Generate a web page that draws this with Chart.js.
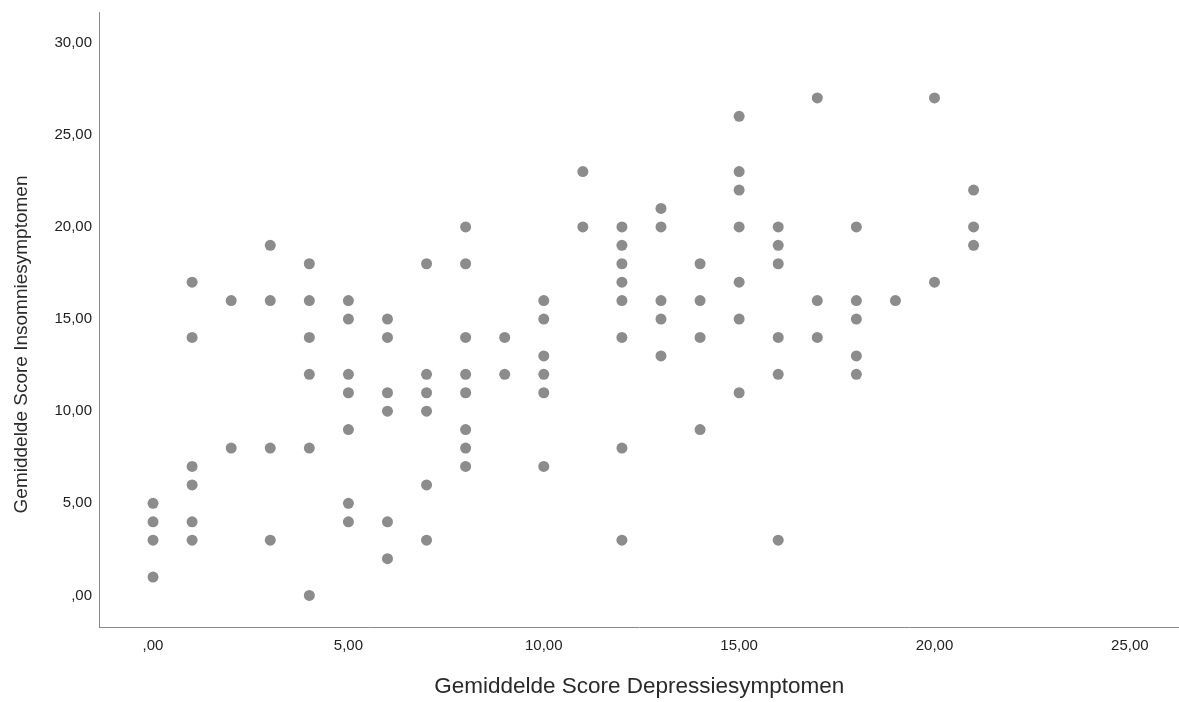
<!DOCTYPE html>
<html>
<head>
<meta charset="utf-8">
<title>Depressie vs Insomnie</title>
<script src="https://cdn.jsdelivr.net/npm/chart.js@4.4.1/dist/chart.umd.min.js"></script>
<style>
  html, body { margin: 0; padding: 0; background: #ffffff; overflow: hidden; }
  canvas { display: block; }
</style>
</head>
<body>
<canvas id="c" width="1185" height="702"></canvas>
<script>
// Gemiddelde scores per respondent (depressie op x, insomnie op y)
const depressie = [
  0, 0, 0, 0,
  1, 1, 1, 1, 1, 1,
  2, 2,
  3, 3, 3, 3,
  4, 4, 4, 4, 4, 4,
  5, 5, 5, 5, 5, 5, 5,
  6, 6, 6, 6, 6, 6,
  7, 7, 7, 7, 7, 7,
  8, 8, 8, 8, 8, 8, 8, 8,
  9, 9,
  10, 10, 10, 10, 10, 10,
  11, 11,
  12, 12, 12, 12, 12, 12, 12, 12,
  13, 13, 13, 13, 13,
  14, 14, 14, 14,
  15, 15, 15, 15, 15, 15, 15,
  16, 16, 16, 16, 16, 16,
  17, 17, 17,
  18, 18, 18, 18, 18,
  19,
  20, 20,
  21, 21, 21
];
const insomnie = [
  5, 4, 3, 1,
  17, 14, 7, 6, 4, 3,
  16, 8,
  19, 16, 8, 3,
  18, 16, 14, 12, 8, 0,
  16, 15, 12, 11, 9, 5, 4,
  15, 14, 11, 10, 4, 2,
  18, 12, 11, 10, 6, 3,
  20, 18, 14, 12, 11, 9, 8, 7,
  14, 12,
  16, 15, 13, 12, 11, 7,
  23, 20,
  20, 19, 18, 17, 16, 14, 8, 3,
  21, 20, 16, 15, 13,
  18, 16, 14, 9,
  26, 23, 22, 20, 17, 15, 11,
  20, 19, 18, 14, 12, 3,
  27, 16, 14,
  20, 16, 15, 13, 12,
  16,
  27, 17,
  22, 20, 19
];
const tickWaarden = [0, 5, 10, 15, 20, 25, 30];
const xTitel = 'Gemiddelde Score Depressiesymptomen';
const yTitel = 'Gemiddelde Score Insomniesymptomen';

const punten = depressie.map((x, i) => ({ x: x, y: insomnie[i] }));

// SPSS-achtige labels: komma als decimaalteken, geen voorloopnul
function label(v) {
  const s = Number(v).toFixed(2).replace('.', ',');
  return s.startsWith('0,') ? s.slice(1) : s;
}
function alleenVijftallen(scale) {
  scale.ticks = tickWaarden.filter(v => v >= scale.min && v <= scale.max).map(v => ({ value: v }));
}

const font = 'Arial, "Liberation Sans", sans-serif';

// verticale astitel, iets onder het midden van de y-as
const yTitelPlugin = {
  id: 'yTitel',
  afterDraw(chart) {
    const ctx = chart.ctx;
    const y = chart.scales.y;
    ctx.save();
    ctx.translate(22, (y.top + y.bottom) / 2 + 25);
    ctx.rotate(-Math.PI / 2);
    ctx.font = '19px ' + font;
    ctx.fillStyle = '#2a2a2a';
    ctx.textAlign = 'center';
    ctx.textBaseline = 'middle';
    ctx.fillText(yTitel, 0, 0);
    ctx.restore();
  }
};

new Chart(document.getElementById('c'), {
  type: 'scatter',
  data: {
    datasets: [{
      data: punten,
      backgroundColor: '#8c8c8c',
      borderColor: '#8c8c8c',
      borderWidth: 0,
      pointRadius: 5.5,
      pointHoverRadius: 5.5
    }]
  },
  plugins: [yTitelPlugin],
  options: {
    responsive: false,
    animation: false,
    devicePixelRatio: 1,
    layout: { padding: { top: 12, right: 0, bottom: 0, left: 0 } },
    plugins: { legend: { display: false }, tooltip: { enabled: false } },
    scales: {
      x: {
        type: 'linear',
        min: -1.383,
        max: 26.27,
        afterBuildTicks: alleenVijftallen,
        afterFit: s => { s.height = 75; s.paddingLeft = 0; s.paddingRight = 0; },
        grid: { display: false, drawTicks: false },
        border: { display: true, color: '#8a8a8a', width: 1 },
        ticks: {
          padding: 10,
          color: '#222',
          font: { family: font, size: 15 },
          callback: v => label(v)
        },
        title: {
          display: true,
          text: xTitel,
          color: '#2a2a2a',
          font: { family: font, size: 22.5 },
          padding: { top: 0, bottom: 2 }
        }
      },
      y: {
        type: 'linear',
        min: -1.71,
        max: 31.66,
        afterBuildTicks: alleenVijftallen,
        afterFit: s => { s.width = 99; s.paddingTop = 0; s.paddingBottom = 0; },
        grid: { display: false, drawTicks: false },
        border: { display: true, color: '#8a8a8a', width: 1 },
        ticks: {
          padding: 7,
          color: '#222',
          font: { family: font, size: 15 },
          callback: v => label(v)
        },
        title: { display: false }
      }
    }
  }
});
</script>
</body>
</html>
